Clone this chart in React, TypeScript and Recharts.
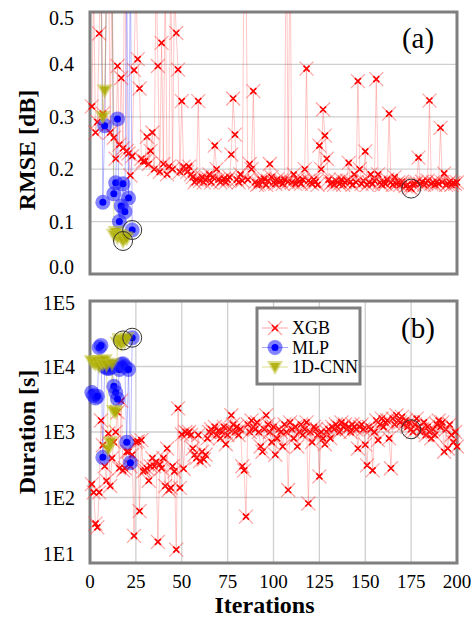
import React from 'react';
import { ComposedChart, Line, Scatter, XAxis, YAxis, CartesianGrid, ReferenceArea, Customized } from 'recharts';

const FONT = 'Liberation Serif, Times New Roman, Times, serif';
const fs = (size: number, bold = false): React.CSSProperties => ({
  fontFamily: FONT, fontSize: size, fontWeight: bold ? 'bold' : 'normal',
});

// ---------- data ----------
const iterTicks = [0, 25, 50, 75, 100, 125, 150, 175, 200];
const rmseTicks = [0, 0.1, 0.2, 0.3, 0.4, 0.5];
const durTicks = [10, 100, 1000, 10000, 100000];
const durTickLabels = ['1E1', '1E2', '1E3', '1E4', '1E5'];
const seriesNames = ['XGB', 'MLP', '1D-CNN'];

// XGB: iterations 1..200
const xgbRmse = [
  0.32, 0.55, 0.27, 0.29, 0.459, 0.62, 0.306, 0.28, 0.58, 0.65,
  0.27, 0.6, 0.26, 0.22, 0.397, 0.247, 0.374, 0.24, 0.7, 0.235,
  0.23, 0.188, 0.225, 0.389, 0.56, 0.41, 0.354, 0.22, 0.215, 0.215,
  0.262, 0.21, 0.235, 0.27, 0.2, 0.6, 0.397, 0.195, 0.441, 0.21,
  0.57, 0.19, 0.205, 0.6, 0.2, 0.55, 0.46, 0.39, 0.195, 0.33,
  0.205, 0.2, 0.195, 0.205, 0.19, 0.185, 0.175, 0.18, 0.33, 0.178,
  0.185, 0.175, 0.18, 0.183, 0.19, 0.175, 0.185, 0.245, 0.2, 0.18,
  0.175, 0.178, 0.182, 0.175, 0.18, 0.185, 0.228, 0.335, 0.266, 0.18,
  0.175, 0.19, 0.178, 0.62, 0.6, 0.18, 0.21, 0.2, 0.349, 0.175,
  0.17, 0.172, 0.18, 0.175, 0.182, 0.17, 0.178, 0.21, 0.185, 0.175,
  0.172, 0.18, 0.175, 0.178, 0.172, 0.18, 0.7, 0.176, 0.65, 0.175,
  0.19, 0.172, 0.18, 0.176, 0.172, 0.18, 0.2, 0.392, 0.178, 0.175,
  0.172, 0.18, 0.176, 0.17, 0.245, 0.2, 0.314, 0.264, 0.22, 0.18,
  0.172, 0.175, 0.17, 0.178, 0.175, 0.172, 0.18, 0.17, 0.175, 0.178,
  0.212, 0.176, 0.17, 0.19, 0.175, 0.368, 0.2, 0.172, 0.178, 0.234,
  0.17, 0.175, 0.19, 0.172, 0.178, 0.372, 0.19, 0.175, 0.17, 0.176,
  0.172, 0.18, 0.306, 0.175, 0.17, 0.185, 0.172, 0.175, 0.17, 0.176,
  0.172, 0.168, 0.17, 0.166, 0.163, 0.17, 0.172, 0.175, 0.222, 0.172,
  0.176, 0.17, 0.174, 0.178, 0.331, 0.172, 0.175, 0.17, 0.176, 0.172,
  0.279, 0.175, 0.192, 0.17, 0.172, 0.176, 0.17, 0.174, 0.172, 0.175,
];
const xgbDuration = [
  160, 120, 40, 35, 120, 1500, 630, 300, 180, 950,
  150, 400, 700, 1000, 2000, 280, 3000, 260, 280, 500,
  500, 300, 450, 26, 700, 720, 62, 750, 250, 260,
  280, 180, 300, 400, 300, 350, 21, 320, 280, 400,
  150, 560, 130, 140, 300, 250, 16, 2300, 140, 920,
  275, 1000, 950, 1000, 900, 560, 450, 400, 900, 360,
  500, 380, 450, 800, 1000, 1100, 1000, 1200, 900, 1050,
  800, 1000, 1200, 650, 900, 1100, 1800, 1300, 1000, 1200,
  900, 1100, 300, 260, 51, 1300, 1000, 1500, 1200, 1100,
  1400, 1000, 600, 500, 1100, 1800, 1300, 1000, 700, 1200,
  450, 800, 1100, 1000, 600, 1300, 1000, 130, 1400, 1100,
  800, 1200, 600, 1000, 1300, 900, 1100, 1400, 81, 1000,
  700, 1200, 1100, 900, 210, 1000, 800, 650, 1000, 1100,
  800, 1200, 1100, 1300, 1200, 1000, 1400, 1200, 1300, 1100,
  1200, 1000, 1300, 1200, 1100, 560, 1200, 1300, 1100, 640,
  310, 1200, 1100, 260, 1000, 1500, 750, 1300, 1600, 1200,
  1400, 1500, 800, 280, 1600, 1300, 1800, 1500, 1400, 1700,
  1300, 1500, 1200, 1400, 1100, 1000, 1300, 1600, 1200, 1000,
  1100, 1400, 900, 1200, 1000, 800, 1100, 900, 1300, 1500,
  1200, 1400, 500, 1100, 560, 1300, 900, 700, 1000, 600,
];

// MLP: iterations 1..23
const mlpRmse = [
  0.9, 0.75, 0.8, 0.7, 0.6, 0.6, 0.137, 0.283, 0.55, 0.6,
  0.52, 0.55, 0.153, 0.174, 0.296, 0.1, 0.13, 0.172, 0.119, 0.58,
  0.145, 0.6, 0.084,
];
const mlpDuration = [
  4000, 3600, 3300, 3500, 19500, 21000, 410, 10000, 9500, 9300,
  9500, 10000, 5000, 4000, 3200, 9000, 10700, 11000, 10000, 700,
  9000, 340, 27500,
];

// 1D-CNN: iterations 1..20
const cnnRmse = [
  0.62, 0.55, 0.7, 0.6, 0.58, 0.52, 0.3, 0.35, 0.55, 0.6,
  0.52, 0.56, 0.075, 0.08, 0.07, 0.075, 0.072, 0.063, 0.07, 0.068,
];
const cnnDuration = [
  12000, 11500, 11000, 12000, 10000, 12000, 11000, 12500, 10500, 550,
  700, 11000, 2100, 2000, 23000, 26000, 22000, 25000, 24000, 27000,
];

// best iteration of each model (circled)
const bestIters = [175, 23, 18];

// ---------- derived tables ----------
const toPts = (arr: number[]) => arr.map((v, i) => ({ x: i + 1, y: v }));
const xgbTop = toPts(xgbRmse);
const xgbBot = toPts(xgbDuration);
const mlpTop = toPts(mlpRmse);
const mlpBot = toPts(mlpDuration);
const cnnTop = toPts(cnnRmse);
const cnnBot = toPts(cnnDuration);
const bestTop = [
  { x: bestIters[0], y: xgbRmse[bestIters[0] - 1] },
  { x: bestIters[1], y: mlpRmse[bestIters[1] - 1] },
  { x: bestIters[2], y: cnnRmse[bestIters[2] - 1] },
];
const bestBot = [
  { x: bestIters[0], y: xgbDuration[bestIters[0] - 1] },
  { x: bestIters[1], y: mlpDuration[bestIters[1] - 1] },
  { x: bestIters[2], y: cnnDuration[bestIters[2] - 1] },
];

// ---------- styles ----------
const XGB_LINE = 'rgba(255,0,0,0.22)';
const MLP_LINE = 'rgba(60,60,255,0.35)';
const CNN_LINE = 'rgba(180,180,0,0.35)';
const FRAME = '#7f7f7f';
const GRID = '#cfcfcf';

const xPath = (cx: number, cy: number, r: number) =>
  `M${cx - r},${cy - r}L${cx + r},${cy + r}M${cx - r},${cy + r}L${cx + r},${cy - r}`;

const XMark = ({ cx, cy }: { cx: number; cy: number }) => (
  <g>
    <path d={xPath(cx, cy, 7)} stroke="rgba(255,70,70,0.5)" strokeWidth={1.2} fill="none" />
    <path d={xPath(cx, cy, 3)} stroke="#ff0000" strokeWidth={1.6} fill="none" />
  </g>
);
const CircleMark = ({ cx, cy }: { cx: number; cy: number }) => (
  <g>
    <circle cx={cx} cy={cy} r={7.5} fill="rgba(30,30,255,0.55)" />
    <circle cx={cx} cy={cy} r={3.5} fill="#0000ff" />
  </g>
);
const TriMark = ({ cx, cy }: { cx: number; cy: number }) => (
  <g>
    <path d={`M${cx - 8},${cy - 6}L${cx + 8},${cy - 6}L${cx},${cy + 8}Z`} fill="rgba(190,190,40,0.55)" />
    <path d={`M${cx - 5},${cy - 4}L${cx + 5},${cy - 4}L${cx},${cy + 5}Z`} fill="rgba(170,170,0,0.8)" />
  </g>
);

const dotFn = (Mark: any) => (p: any) => {
  if (p.cx == null || p.cy == null || isNaN(p.cx) || isNaN(p.cy)) return <g key={`e${p.index}`} />;
  return <Mark key={`m${p.index}`} cx={p.cx} cy={p.cy} />;
};

const bestShape = (p: any) => (
  <circle cx={p.cx} cy={p.cy} r={9.5} fill="none" stroke="#333" strokeWidth={1} />
);

const RmseTick = (p: any) => {
  const v = p.payload.value;
  const shift = v === 0.5 ? 6 : v === 0 ? -7 : 0;
  return (
    <text x={p.x - 8} y={p.y + shift} dy="0.35em" textAnchor="end" style={fs(20)} fill="#000">
      {v.toFixed(1)}
    </text>
  );
};
const DurTick = (p: any) => {
  const v = p.payload.value;
  const idx = durTicks.indexOf(v);
  const shift = v === 100000 ? 2 : v === 10 ? -9 : 0;
  return (
    <text x={p.x - 7} y={p.y + shift} dy="0.35em" textAnchor="end" style={fs(20)} fill="#000">
      {durTickLabels[idx]}
    </text>
  );
};
const IterTick = (p: any) => (
  <text x={p.x} y={p.y + 17} textAnchor="middle" style={fs(19)} fill="#000">
    {p.payload.value}
  </text>
);

const yTitle = (text: string, dyc: number) => (p: any) => {
  const vb = p.viewBox;
  const cx = 27;
  const cy = vb.y + vb.height / 2 + dyc;
  return (
    <text x={cx} y={cy} transform={`rotate(-90 ${cx} ${cy})`} textAnchor="middle" dy="0.35em"
      style={fs(24, true)} fill="#000">
      {text}
    </text>
  );
};
const xTitle = (p: any) => {
  const vb = p.viewBox;
  return (
    <text x={vb.x + vb.width / 2 - 9} y={vb.y + 50} textAnchor="middle" style={fs(24, true)} fill="#000">
      Iterations
    </text>
  );
};

const PanelLabel = ({ text }: { text: string }) => (
  <text x={418} y={48} textAnchor="middle" style={fs(29)} fill="#000">{text}</text>
);

const LegendBox = () => {
  const marks = [XMark, CircleMark, TriMark];
  const lineCols = ['rgba(255,0,0,0.35)', 'rgba(60,60,255,0.45)', 'rgba(180,180,0,0.45)'];
  return (
    <g>
      <rect x={257} y={18} width={103} height={76} fill="#fff" stroke={FRAME} strokeWidth={3} />
      {seriesNames.map((n, i) => {
        const y = 38 + i * 19.5;
        const M = marks[i];
        return (
          <g key={n}>
            <line x1={262} x2={288} y1={y} y2={y} stroke={lineCols[i]} strokeWidth={1} />
            <M cx={275} cy={y} />
            <text x={292} y={y} dy="0.35em" style={fs(18)} fill="#000">{n}</text>
          </g>
        );
      })}
    </g>
  );
};

export default function App() {
  return (
    <div style={{ position: 'absolute', left: 0, top: 0, width: 471, height: 618, background: '#fff' }}>
      <div style={{ position: 'absolute', left: 0, top: 0 }}>
        <ComposedChart width={471} height={290} margin={{ top: 12, right: 14, bottom: 0, left: 0 }}>
          <CartesianGrid stroke={GRID} strokeWidth={1.3} />
          <XAxis type="number" dataKey="x" domain={[0, 200]} ticks={iterTicks} height={16}
            tick={false} tickLine={false} axisLine={false} />
          <YAxis type="number" dataKey="y" domain={[0, 0.5]} ticks={rmseTicks} width={90} allowDataOverflow
            tick={RmseTick} tickLine={false} axisLine={false}
            label={{ content: yTitle('RMSE [dB]', 7) }} />
          <Line data={xgbTop} dataKey="y" stroke={XGB_LINE} strokeWidth={1} dot={dotFn(XMark)} activeDot={false} isAnimationActive={false} />
          <Line data={mlpTop} dataKey="y" stroke={MLP_LINE} strokeWidth={1} dot={dotFn(CircleMark)} activeDot={false} isAnimationActive={false} />
          <Line data={cnnTop} dataKey="y" stroke={CNN_LINE} strokeWidth={1} dot={dotFn(TriMark)} activeDot={false} isAnimationActive={false} />
          <Scatter data={bestTop} dataKey="y" shape={bestShape} isAnimationActive={false} />
          <ReferenceArea x1={0} x2={200} y1={0} y2={0.5} fill="none" stroke={FRAME} strokeWidth={3} />
          <Customized component={() => <PanelLabel text="(a)" />} />
        </ComposedChart>
      </div>
      <div style={{ position: 'absolute', left: 0, top: 290 }}>
        <ComposedChart width={471} height={328} margin={{ top: 11, right: 14, bottom: 0, left: 0 }}>
          <CartesianGrid stroke={GRID} strokeWidth={1.3} />
          <XAxis type="number" dataKey="x" domain={[0, 200]} ticks={iterTicks} height={55}
            tick={IterTick} tickLine={false} axisLine={false} label={{ content: xTitle }} />
          <YAxis type="number" dataKey="y" scale="log" domain={[10, 100000]} ticks={durTicks} width={90} allowDataOverflow
            tick={DurTick} tickLine={false} axisLine={false}
            label={{ content: yTitle('Duration [s]', 0) }} />
          <Line data={xgbBot} dataKey="y" stroke={XGB_LINE} strokeWidth={1} dot={dotFn(XMark)} activeDot={false} isAnimationActive={false} />
          <Line data={mlpBot} dataKey="y" stroke={MLP_LINE} strokeWidth={1} dot={dotFn(CircleMark)} activeDot={false} isAnimationActive={false} />
          <Line data={cnnBot} dataKey="y" stroke={CNN_LINE} strokeWidth={1} dot={dotFn(TriMark)} activeDot={false} isAnimationActive={false} />
          <Scatter data={bestBot} dataKey="y" shape={bestShape} isAnimationActive={false} />
          <ReferenceArea x1={0} x2={200} y1={10} y2={100000} fill="none" stroke={FRAME} strokeWidth={3} />
          <Customized component={() => <PanelLabel text="(b)" />} />
          <Customized component={LegendBox} />
        </ComposedChart>
      </div>
    </div>
  );
}
